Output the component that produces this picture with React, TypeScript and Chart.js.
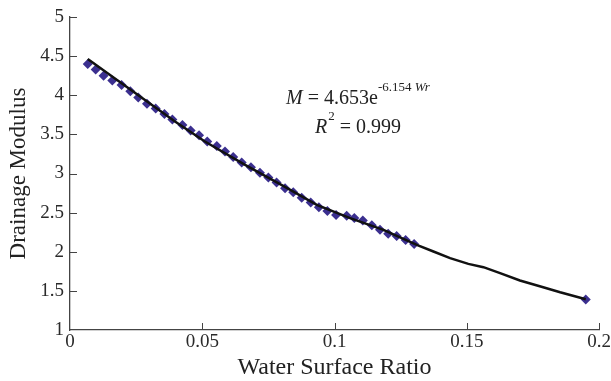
import { useEffect, useRef } from "react";
import { Chart, registerables } from "chart.js";

Chart.register(...registerables);

// Observed data (water surface ratio vs drainage modulus)
const ratioX = [
  0.0067, 0.0097, 0.0127, 0.016, 0.0195, 0.0228, 0.0258, 0.0291, 0.0324, 0.0357, 0.0387,
  0.0425, 0.0456, 0.0488, 0.0519, 0.0555, 0.0586, 0.0617, 0.0649, 0.0684, 0.0718, 0.075,
  0.0781, 0.0813, 0.0844, 0.0876, 0.091, 0.0941, 0.0973, 0.1006, 0.1046, 0.1075, 0.1107,
  0.1141, 0.1172, 0.1203, 0.1235, 0.1269, 0.1301, 0.195,
];
const modulusY = [
  4.4, 4.33, 4.25, 4.19, 4.13, 4.05, 3.97, 3.89, 3.83, 3.76, 3.69,
  3.62, 3.55, 3.49, 3.41, 3.35, 3.28, 3.21, 3.14, 3.08, 3.01, 2.95,
  2.885, 2.81, 2.76, 2.69, 2.63, 2.57, 2.52, 2.47, 2.46, 2.43, 2.4,
  2.34, 2.28, 2.23, 2.2, 2.15, 2.1, 1.39,
];

// Fitted curve
const fitX = [
  0.0067, 0.0397, 0.051, 0.0662, 0.0806, 0.0933, 0.1059, 0.1185, 0.1311, 0.1374,
  0.1437, 0.1506, 0.1563, 0.1626, 0.1701, 0.1789, 0.1853, 0.195,
];
const fitY = [
  4.463, 3.665, 3.409, 3.111, 2.843, 2.6, 2.43, 2.28, 2.088, 2.003,
  1.918, 1.845, 1.803, 1.726, 1.632, 1.547, 1.483, 1.394,
];

const xTicks = [0, 0.05, 0.1, 0.15, 0.2];
const yTicks = [1, 1.5, 2, 2.5, 3, 3.5, 4, 4.5, 5];

const xTitle = "Water Surface Ratio";
const yTitle = "Drainage Modulus";

// Equation annotation: anchors in data units
const eq1Anchor = [0.0817, 3.89];
const eq2Anchor = [0.0926, 3.517];

const SERIF = '"Liberation Serif", "Times New Roman", serif';
const AXIS = "#444444";
const TEXT = "#2a2a2a";
const MARK = "#3b2f8f";

const decorPlugin = {
  id: "decor",
  afterDraw(chart: any) {
    const { ctx, chartArea } = chart;
    const xs = chart.scales.x;
    const ys = chart.scales.y;
    ctx.save();
    // inside tick marks
    ctx.strokeStyle = AXIS;
    ctx.lineWidth = 1;
    ctx.beginPath();
    xTicks.forEach((v) => {
      if (v === 0) return;
      const px = Math.round(xs.getPixelForValue(v)) + 0.5;
      ctx.moveTo(px, chartArea.bottom);
      ctx.lineTo(px, chartArea.bottom - 7);
    });
    yTicks.forEach((v) => {
      if (v === 1) return;
      const py = Math.round(ys.getPixelForValue(v)) + 0.5;
      ctx.moveTo(chartArea.left, py);
      ctx.lineTo(chartArea.left + 7, py);
    });
    ctx.stroke();

    // equation text
    ctx.fillStyle = "#222222";
    ctx.textBaseline = "alphabetic";
    ctx.textAlign = "left";
    let x = xs.getPixelForValue(eq1Anchor[0]);
    let y = ys.getPixelForValue(eq1Anchor[1]);
    ctx.font = `italic 20px ${SERIF}`;
    ctx.fillText("M", x, y);
    x += ctx.measureText("M").width;
    ctx.font = `20px ${SERIF}`;
    ctx.fillText(" = 4.653e", x, y);
    x += ctx.measureText(" = 4.653e").width;
    ctx.font = `13px ${SERIF}`;
    ctx.fillText("-6.154 ", x, y - 13);
    x += ctx.measureText("-6.154 ").width;
    ctx.font = `italic 13px ${SERIF}`;
    ctx.fillText("Wr", x, y - 13);

    x = xs.getPixelForValue(eq2Anchor[0]);
    y = ys.getPixelForValue(eq2Anchor[1]);
    ctx.font = `italic 20px ${SERIF}`;
    ctx.fillText("R", x, y);
    x += ctx.measureText("R").width + 1;
    ctx.font = `13px ${SERIF}`;
    ctx.fillText("2", x, y - 13);
    x += ctx.measureText("2").width;
    ctx.font = `20px ${SERIF}`;
    ctx.fillText(" = 0.999", x, y);
    ctx.restore();
  },
};

const fmt = (v: any) => String(Number(v));

export default function App() {
  const canvasRef = useRef<HTMLCanvasElement | null>(null);

  useEffect(() => {
    document.body.style.margin = "0";
    const canvas = canvasRef.current;
    if (!canvas) return;
    const chart = new Chart(canvas, {
      type: "scatter",
      data: {
        datasets: [
          {
            type: "line",
            label: "fit",
            data: fitX.map((v, i) => ({ x: v, y: fitY[i] })),
            borderColor: "#111111",
            borderWidth: 2.5,
            pointRadius: 0,
            tension: 0,
            fill: false,
            order: 0,
          } as any,
          {
            label: "observed",
            data: ratioX.map((v, i) => ({ x: v, y: modulusY[i] })),
            pointStyle: "rectRot",
            pointRadius: 5,
            backgroundColor: MARK,
            borderColor: MARK,
            borderWidth: 0,
            order: 1,
          },
        ],
      },
      options: {
        animation: false,
        responsive: false,
        layout: { padding: { top: 17, right: 12, left: 0, bottom: 0 } },
        plugins: {
          legend: { display: false },
          tooltip: { enabled: false },
        },
        scales: {
          x: {
            type: "linear",
            min: 0,
            max: 0.2,
            afterBuildTicks: (s: any) => {
              s.ticks = xTicks.map((v) => ({ value: v }));
            },
            afterFit: (s: any) => {
              s.height = 51;
              s.paddingLeft = 0;
              s.paddingRight = 0;
            },
            grid: { display: false, drawTicks: false },
            border: { display: true, color: AXIS, width: 1.3 },
            ticks: {
              padding: 1,
              color: TEXT,
              font: { family: SERIF, size: 19 },
              maxRotation: 0,
              autoSkip: false,
              callback: fmt,
            },
            title: {
              display: true,
              text: xTitle,
              color: "#222222",
              font: { family: SERIF, size: 24 },
              padding: { top: 0, bottom: -1 },
            },
          },
          y: {
            type: "linear",
            min: 1,
            max: 5,
            afterBuildTicks: (s: any) => {
              s.ticks = yTicks.map((v) => ({ value: v }));
            },
            afterFit: (s: any) => {
              s.width = 70;
              s.paddingTop = 0;
              s.paddingBottom = 0;
            },
            grid: { display: false, drawTicks: false },
            border: { display: true, color: AXIS, width: 1.3 },
            ticks: {
              padding: 6,
              color: TEXT,
              font: { family: SERIF, size: 19 },
              autoSkip: false,
              callback: fmt,
            },
            title: {
              display: true,
              text: yTitle,
              color: "#222222",
              font: { family: SERIF, size: 23 },
              padding: { top: 5, bottom: 0 },
            },
          },
        },
      },
      plugins: [decorPlugin],
    });
    return () => chart.destroy();
  }, []);

  return (
    <div style={{ width: 611, height: 381 }}>
      <canvas ref={canvasRef} width={611} height={381} />
    </div>
  );
}
